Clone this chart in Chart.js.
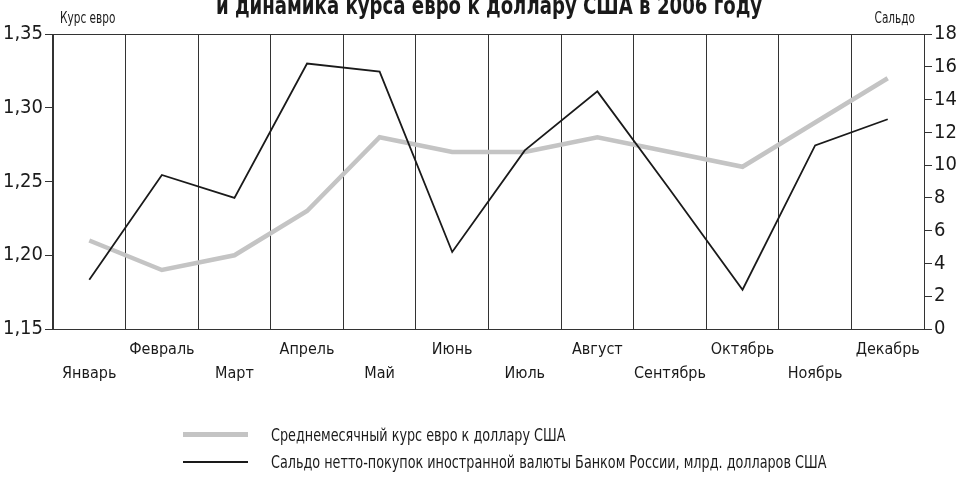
<!DOCTYPE html>
<html>
<head>
<meta charset="utf-8">
<script src="https://cdn.jsdelivr.net/npm/chart.js@4/dist/chart.umd.min.js"></script>
<style>
  body { margin: 0; background: #fff; }
  #wrap { position: relative; width: 957px; height: 477px; overflow: hidden; }
  #legend { position: absolute; left: 183px; top: 421px; font-family: "DejaVu Sans Condensed", "DejaVu Sans", sans-serif; font-size: 18px; color: #1a1a1a; white-space: nowrap; }
  #legend div { height: 27px; display: flex; align-items: center; }
  #legend span.box { display: inline-block; width: 65px; margin-right: 23px; }
  #legend span.txt { display: inline-block; transform: scaleX(0.79); transform-origin: left center; }
</style>
</head>
<body>
<div id="wrap">
  <canvas id="chart"></canvas>
  <div id="legend"></div>
</div>
<script>
const FONT = '"DejaVu Sans Condensed", "DejaVu Sans", sans-serif';

const months = ['Январь', 'Февраль', 'Март', 'Апрель', 'Май', 'Июнь',
    'Июль', 'Август', 'Сентябрь', 'Октябрь', 'Ноябрь', 'Декабрь'];

// среднемесячный курс евро
const euroRate = [1.21, 1.19, 1.20, 1.23, 1.28, 1.27, 1.27, 1.28, 1.27, 1.26, 1.29, 1.32];

// сальдо нетто-покупок, млрд долларов
const saldo = [3.0, 9.4, 8.0, 16.2, 15.7, 4.7, 10.9, 14.5, 8.5, 2.4, 11.2, 12.8];

const rateTicks = [1.15, 1.20, 1.25, 1.30, 1.35];
const saldoTicks = [0, 2, 4, 6, 8, 10, 12, 14, 16, 18];

const TITLE = 'и динамика курса евро к доллару США в 2006 году';
const LEFT_TITLE = 'Курс евро';
const RIGHT_TITLE = 'Сальдо';

// labels alternate between two rows
let xLabels = months.map(function (m, i) {
    return i % 2 === 0 ? ['', m] : [m, ''];
});

// text squeezed horizontally to look like the condensed face of the original
function narrowText(ctx, text, x, y, align, sx) {
    ctx.save();
    ctx.translate(x, y);
    ctx.scale(sx, 1);
    ctx.textAlign = align;
    ctx.fillText(text, 0, 0);
    ctx.restore();
}

let textPlugin = {
    id: 'texts',
    afterDraw: function (chart) {
        let ctx = chart.ctx;
        let area = chart.chartArea;
        ctx.save();
        ctx.fillStyle = '#1a1a1a';
        ctx.textBaseline = 'alphabetic';
        ctx.font = 'bold 24px ' + FONT;
        narrowText(ctx, TITLE, 489, 13.5, 'center', 0.84);
        ctx.font = '15px ' + FONT;
        narrowText(ctx, LEFT_TITLE, area.left + 7, area.top - 11, 'left', 0.78);
        narrowText(ctx, RIGHT_TITLE, area.right - 9, area.top - 11, 'right', 0.78);
        ctx.restore();
    }
};

let ctx = document.getElementById('chart').getContext('2d');

let chart = new Chart(ctx, {
    type: 'line',
    data: {
        labels: xLabels,
        datasets: [
            {
                label: 'Среднемесячный курс евро к доллару США',
                data: euroRate,
                yAxisID: 'y',
                borderColor: '#c4c4c4',
                borderWidth: 4.5,
                pointRadius: 0,
                tension: 0,
                order: 1
            },
            {
                label: 'Сальдо нетто-покупок иностранной валюты Банком России, млрд. долларов США',
                data: saldo,
                yAxisID: 'y1',
                borderColor: '#1a1a1a',
                borderWidth: 1.8,
                pointRadius: 0,
                tension: 0,
                order: 0
            }
        ]
    },
    options: {
        responsive: true,
        maintainAspectRatio: false,
        animation: false,
        layout: { padding: { top: 34, left: 0, right: 0, bottom: 88 } },
        plugins: {
            legend: { display: false },
            tooltip: { enabled: false },
            title: { display: false }
        },
        scales: {
            x: {
                offset: true,
                grid: { offset: true, color: '#333', lineWidth: 1, drawTicks: false },
                border: { color: '#333', width: 1 },
                ticks: {
                    autoSkip: false,
                    maxRotation: 0,
                    padding: 9,
                    color: '#1a1a1a',
                    font: { family: FONT, size: 16, lineHeight: 1.5 }
                },
                afterFit: function (scale) { scale.height = 60; }
            },
            y: {
                position: 'left',
                min: 1.15,
                max: 1.35,
                afterBuildTicks: function (scale) {
                    scale.ticks = rateTicks.map(function (v) { return { value: v }; });
                },
                grid: {
                    color: function (c) { return c.tick && c.tick.value === 1.35 ? '#333' : 'rgba(0,0,0,0)'; },
                    tickColor: '#333',
                    tickLength: 8
                },
                border: { color: '#333', width: 1 },
                ticks: {
                    autoSkip: false,
                    padding: 2,
                    color: '#1a1a1a',
                    font: { family: FONT, size: 20 },
                    callback: function (v) { return v.toFixed(2).replace('.', ','); }
                },
                afterFit: function (scale) { scale.width = 53; }
            },
            y1: {
                position: 'right',
                min: 0,
                max: 18,
                afterBuildTicks: function (scale) {
                    scale.ticks = saldoTicks.map(function (v) { return { value: v }; });
                },
                grid: { drawOnChartArea: false, color: '#333', tickLength: 8 },
                border: { color: '#333', width: 1 },
                ticks: {
                    autoSkip: false,
                    padding: 2,
                    color: '#1a1a1a',
                    font: { family: FONT, size: 20 }
                },
                afterFit: function (scale) { scale.width = 33; }
            }
        }
    },
    plugins: [textPlugin]
});

// html legend built from the datasets
let legendBox = document.getElementById('legend');
chart.data.datasets.forEach(function (ds) {
    let row = document.createElement('div');
    let box = document.createElement('span');
    box.className = 'box';
    box.style.borderTop = (ds.borderWidth > 3 ? 5 : 2) + 'px solid ' + ds.borderColor;
    let txt = document.createElement('span');
    txt.className = 'txt';
    txt.textContent = ds.label;
    row.appendChild(box);
    row.appendChild(txt);
    legendBox.appendChild(row);
});
</script>
</body>
</html>
